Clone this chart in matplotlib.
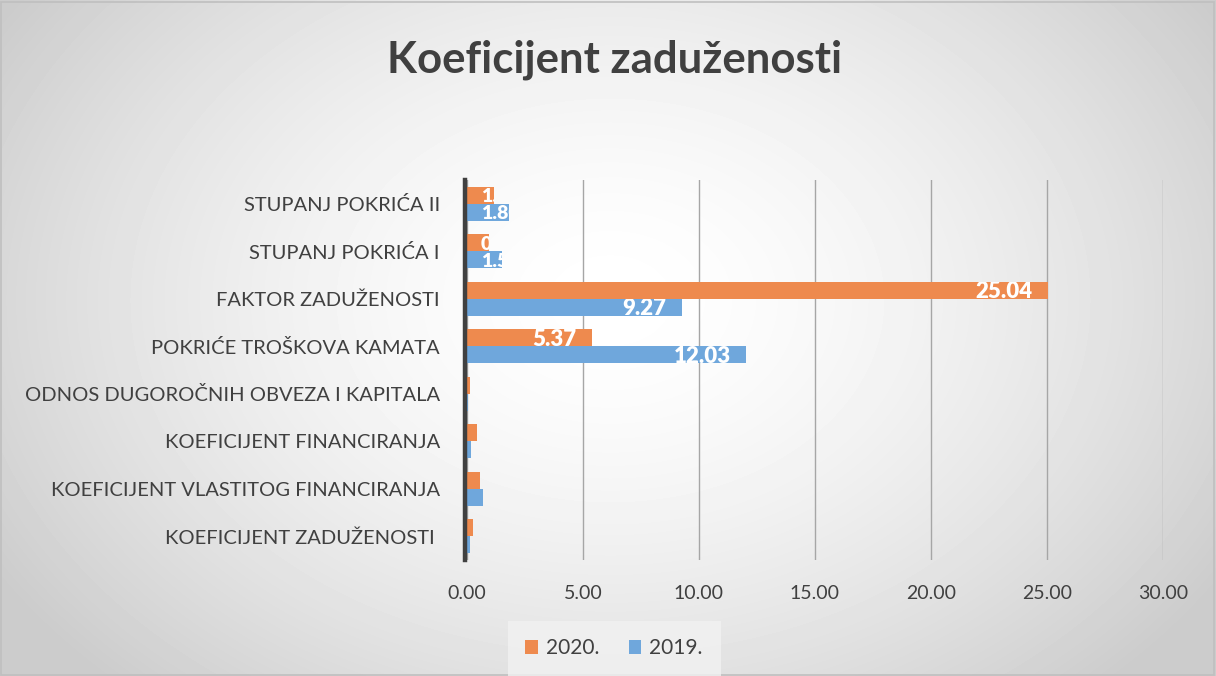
#!/usr/bin/env python3

import numpy as np
import matplotlib
matplotlib.use("Agg")
import matplotlib.pyplot as plt
from matplotlib.patches import Rectangle

categories = ["KOEFICIJENT ZADUŽENOSTI ", "KOEFICIJENT VLASTITOG FINANCIRANJA",
              "KOEFICIJENT FINANCIRANJA", "ODNOS DUGOROČNIH OBVEZA I KAPITALA",
              "POKRIĆE TROŠKOVA KAMATA", "FAKTOR ZADUŽENOSTI",
              "STUPANJ POKRIĆA I", "STUPANJ POKRIĆA II"]
vals_2020 = [0.27, 0.56, 0.43, 0.13, 5.37, 25.04, 0.93, 1.15]
vals_2019 = [0.13, 0.69, 0.17, 0.05, 12.03, 9.27, 1.53, 1.80]
series_names = ["2020.", "2019."]
xticks = [0, 5, 10, 15, 20, 25, 30]

ORANGE = "#EE8A4E"
BLUE = "#6FA7DC"
TXT = "#404040"

plt.rcParams['font.family'] = ['Lato', 'DejaVu Sans']

fig = plt.figure(figsize=(12.16, 6.76), dpi=100)

# radial gradient background
bg = fig.add_axes([0, 0, 1, 1], zorder=-10)
yy, xx = np.mgrid[0:676, 0:1216]
r = np.sqrt(((xx - 610) / 760.0) ** 2 + ((yy - 300) / 560.0) ** 2)
shade = np.clip(1.0 - 0.22 * r ** 1.6, 0.80, 1.0)
bg.imshow(shade, cmap="gray", vmin=0, vmax=1, aspect="auto",
          extent=[0, 1, 0, 1], origin="upper")
bg.add_patch(Rectangle((0.001, 0.002), 0.997, 0.995, fill=False,
                       ec="#BFBFBF", lw=1.2, transform=bg.transAxes))
bg.set_axis_off()

ax = fig.add_axes([0.3840, 0.1716, 0.5724, 0.562])
ax.patch.set_alpha(0)

y = np.arange(len(categories))
h = 0.36
bars20 = ax.barh(y + h / 2, vals_2020, height=h, color=ORANGE, zorder=3,
                 label=series_names[0])
bars19 = ax.barh(y - h / 2, vals_2019, height=h, color=BLUE, zorder=3,
                 label=series_names[1])

# white labels at the inside end, clipped to the bar (small bars show only a piece)
for bars, vals in ((bars20, vals_2020), (bars19, vals_2019)):
    for b, v in zip(bars, vals):
        if v < 0.8:
            continue
        yc = b.get_y() + b.get_height() / 2
        if v > 3:
            t = ax.annotate(f"{v:.2f}", (v, yc), xytext=(-11, -1),
                            textcoords="offset points", ha="right", va="center",
                            color="white", fontsize=16, fontweight="heavy",
                            zorder=4)
        else:
            t = ax.annotate(f"{v:.2f}", (0, yc), xytext=(10, -1),
                            textcoords="offset points", ha="left", va="center",
                            color="white", fontsize=14, fontweight="heavy",
                            zorder=4)
        t.set_clip_path(b)

ax.set_xlim(0, 30)
ax.set_ylim(-0.5, len(categories) - 0.5)
ax.set_xticks(xticks)
ax.set_xticklabels([f"{v:.2f}" for v in xticks])
ax.set_yticks(y)
ax.set_yticklabels(categories)
ax.tick_params(axis="x", length=0, pad=18, labelsize=14, labelcolor=TXT)
ax.tick_params(axis="y", length=0, pad=18, labelsize=14.5, labelcolor=TXT)
ax.grid(axis="x", color="#A6A6A6", lw=1, zorder=0)
for s in ("top", "right", "bottom"):
    ax.spines[s].set_visible(False)
ax.spines["left"].set_color("#404040")
ax.spines["left"].set_linewidth(3.2)
ax.spines["left"].set_position(("outward", 1.4))
ax.spines["left"].set_zorder(5)

fig.text(0.505, 0.912, "Koeficijent zaduženosti", ha="center", va="center",
         fontsize=31.5, fontweight="bold", color=TXT)

leg = fig.legend(loc="center", bbox_to_anchor=(0.505, 0.041), ncol=2,
                 fontsize=15, frameon=True, handlelength=0.6, handleheight=0.6,
                 handletextpad=0.4, columnspacing=1.4, borderpad=0.55)
leg.get_frame().set_facecolor("#F2F2F2")
leg.get_frame().set_edgecolor("none")
leg.get_frame().set_boxstyle("square")
for t in leg.get_texts():
    t.set_color(TXT)

fig.savefig("out.png", dpi=100)
plt.close()
